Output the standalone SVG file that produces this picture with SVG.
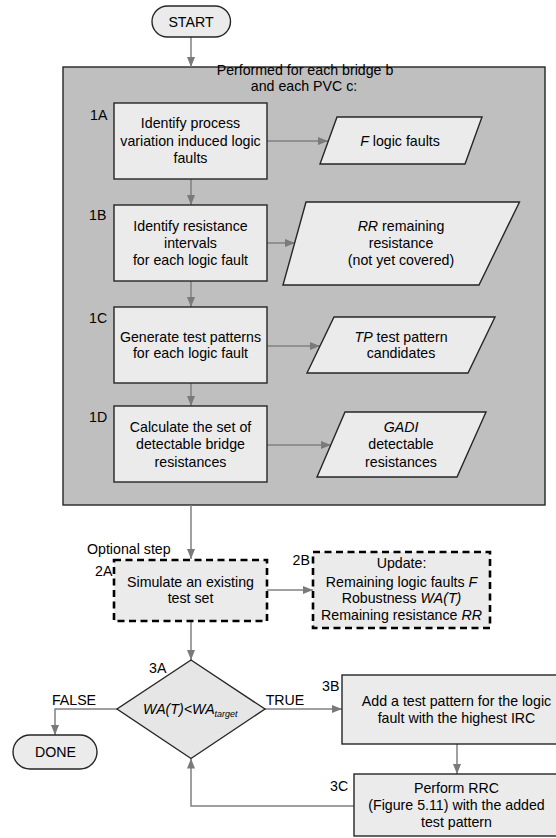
<svg xmlns="http://www.w3.org/2000/svg" width="556" height="838" viewBox="0 0 556 838">
<style>
text{font-family:"Liberation Sans",Arial,sans-serif;font-size:14.2px;fill:#000}
.c{text-anchor:middle}
.i{font-style:italic}
.box{fill:#ebebeb;stroke:#262626;stroke-width:1.4}
.dash{fill:#ebebeb;stroke:#000;stroke-width:2.6;stroke-dasharray:7 4.5}
.con{fill:none;stroke:#808080;stroke-width:1.5;marker-end:url(#ah)}
</style>
<defs>
<marker id="ah" markerUnits="userSpaceOnUse" markerWidth="10" markerHeight="8" refX="10" refY="4" orient="auto">
<path d="M0,0 L10,4 L0,8 z" fill="#7a7a7a"/>
</marker>
</defs>
<rect width="556" height="838" fill="#fff"/>

<g id="loop">
<rect x="63" y="67" width="482" height="438" fill="#bfbfbf" stroke="#262626" stroke-width="1.4"/>
<text class="c" x="305" y="75">Performed for each bridge b</text>
<text class="c" x="304" y="91">and each PVC c:</text>
</g>

<g id="connectors">
<line class="con" x1="191" y1="37" x2="191" y2="67"/>
<line class="con" x1="267" y1="141" x2="328" y2="141"/>
<line class="con" x1="191" y1="179" x2="191" y2="205"/>
<line class="con" x1="267" y1="243" x2="295" y2="243"/>
<line class="con" x1="191" y1="281" x2="191" y2="307"/>
<line class="con" x1="267" y1="346" x2="320" y2="346"/>
<line class="con" x1="191" y1="383" x2="191" y2="406"/>
<line class="con" x1="267" y1="445" x2="331" y2="445"/>
<line class="con" x1="191" y1="505" x2="191" y2="559"/>
<line class="con" x1="267" y1="590" x2="313" y2="590"/>
<line class="con" x1="191" y1="621" x2="191" y2="660"/>
<polyline class="con" points="117,709 55,709 55,735"/>
<line class="con" x1="265" y1="709" x2="342" y2="709"/>
<line class="con" x1="457" y1="744" x2="457" y2="774"/>
<polyline class="con" points="354,806 191,806 191,758.5"/>
</g>

<g id="start">
<rect x="152" y="6" width="78.5" height="31" rx="15.5" class="box"/>
<text class="c" x="191" y="26.5">START</text>
</g>

<g id="n1A">
<text x="90" y="120">1A</text>
<rect x="114" y="103" width="153" height="76" class="box"/>
<text class="c" x="190.5" y="128">Identify process</text>
<text class="c" x="190.5" y="145.5">variation induced logic</text>
<text class="c" x="190.5" y="163">faults</text>
</g>
<g id="outF">
<polygon points="337,117 482,117 465,164 320,164" class="box"/>
<text class="c" x="400" y="146"><tspan class="i">F</tspan> logic faults</text>
</g>

<g id="n1B">
<text x="89" y="220">1B</text>
<rect x="114" y="205" width="153" height="76" class="box"/>
<text class="c" x="190.5" y="231">Identify resistance</text>
<text class="c" x="190.5" y="248">intervals</text>
<text class="c" x="190.5" y="265">for each logic fault</text>
</g>
<g id="outRR">
<polygon points="306,202 519.5,202 479,285 283,285" class="box"/>
<text class="c" x="401" y="231"><tspan class="i">RR</tspan> remaining</text>
<text class="c" x="401" y="248">resistance</text>
<text class="c" x="401" y="265">(not yet covered)</text>
</g>

<g id="n1C">
<text x="89" y="323">1C</text>
<rect x="114" y="307" width="153" height="76" class="box"/>
<text class="c" x="190.5" y="341.5">Generate test patterns</text>
<text class="c" x="190.5" y="358">for each logic fault</text>
</g>
<g id="outTP">
<polygon points="334,317 495,317 468,373 307,373" class="box"/>
<text class="c" x="401" y="341.5"><tspan class="i">TP</tspan> test pattern</text>
<text class="c" x="401" y="358">candidates</text>
</g>

<g id="n1D">
<text x="89" y="422">1D</text>
<rect x="114" y="406" width="153" height="76" class="box"/>
<text class="c" x="190.5" y="431.5">Calculate the set of</text>
<text class="c" x="190.5" y="449">detectable bridge</text>
<text class="c" x="190.5" y="466.5">resistances</text>
</g>
<g id="outGADI">
<polygon points="345,412 486,412 457,477 317,477" class="box"/>
<text class="c i" x="401" y="431.5">GADI</text>
<text class="c" x="401" y="449">detectable</text>
<text class="c" x="401" y="466.5">resistances</text>
</g>

<g id="n2A">
<text x="87" y="554">Optional step</text>
<text x="95" y="576">2A</text>
<rect x="114" y="560" width="153" height="61" class="dash"/>
<text class="c" x="190.5" y="586.5">Simulate an existing</text>
<text class="c" x="190.5" y="603">test set</text>
</g>
<g id="n2B">
<text x="292.5" y="565">2B</text>
<rect x="313" y="552" width="177" height="76" class="dash"/>
<text class="c" x="401.5" y="568">Update:</text>
<text class="c" x="401.5" y="586.5">Remaining logic faults <tspan class="i">F</tspan></text>
<text class="c" x="401.5" y="603">Robustness <tspan class="i">WA(T)</tspan></text>
<text class="c" x="401.5" y="620">Remaining resistance <tspan class="i">RR</tspan></text>
</g>

<g id="n3A">
<text x="149" y="673">3A</text>
<polygon points="191,660 265,709 191,758.5 117,709" fill="#e6e6e6" stroke="#262626" stroke-width="1.4"/>
<text x="143" y="713.5" class="i">WA(T)&lt;WA<tspan font-size="9px" dy="3">target</tspan></text>
<text class="c" x="74" y="705">FALSE</text>
<text class="c" x="285" y="705">TRUE</text>
</g>

<g id="done">
<rect x="13" y="735" width="84" height="34" rx="17" class="box"/>
<text class="c" x="55.5" y="757">DONE</text>
</g>

<g id="n3B">
<text x="322" y="691">3B</text>
<rect x="342" y="675" width="220" height="69" class="box"/>
<text class="c" x="456.5" y="705.5">Add a test pattern for the logic</text>
<text class="c" x="456.5" y="722.5">fault with the highest IRC</text>
</g>

<g id="n3C">
<text x="330" y="791">3C</text>
<rect x="354" y="774" width="210" height="62" class="box"/>
<text class="c" x="456.5" y="793">Perform RRC</text>
<text class="c" x="456.5" y="810">(Figure 5.11) with the added</text>
<text class="c" x="456.5" y="826.5">test pattern</text>
</g>
</svg>
